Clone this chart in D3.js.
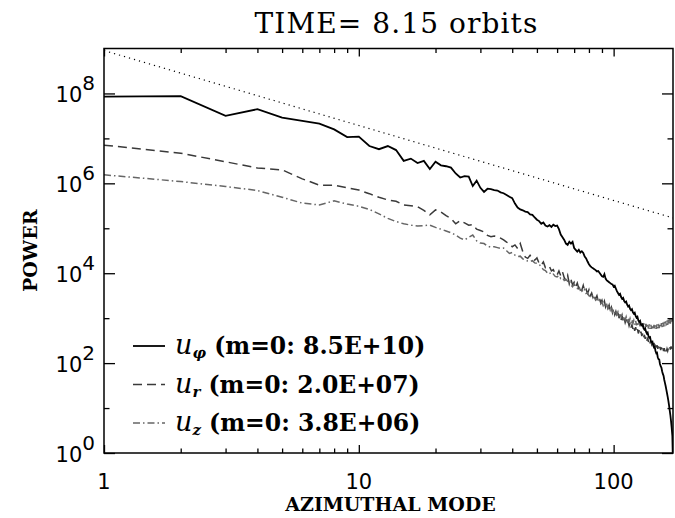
<!DOCTYPE html>
<html>
<head>
<meta charset="utf-8">
<script src="https://cdn.jsdelivr.net/npm/d3@7"></script>
<style>
  body { margin: 0; background: #fff; }
  svg { display: block; }
  .serif { font-family: "DejaVu Serif", "Liberation Serif", serif; }
  .sans { font-family: "DejaVu Sans", "Liberation Sans", sans-serif; }
</style>
</head>
<body>
<div id="chart"></div>
<script>
// log10(power) per azimuthal mode, m = 1 .. 171
const uPhiLog = [
  7.93, 7.94, 7.50, 7.65, 7.46, 7.39, 7.33, 7.20, 7.03, 7.04,
  6.83, 6.76, 6.83, 6.74, 6.50, 6.55, 6.45, 6.50, 6.32, 6.48,
  6.40, 6.38, 6.35, 6.22, 6.13, 6.16, 6.15, 5.94, 6.06, 5.90,
  5.81, 5.88, 5.87, 5.85, 5.84, 5.80, 5.78, 5.74, 5.70, 5.67,
  5.55, 5.46, 5.42, 5.40, 5.37, 5.36, 5.31, 5.30, 5.24, 5.19,
  5.16, 5.10, 5.13, 5.06, 5.04, 5.07, 5.03, 5.08, 5.05, 5.06,
  4.98, 4.86, 4.80, 4.74, 4.66, 4.63, 4.70, 4.66, 4.70, 4.56,
  4.52, 4.48, 4.52, 4.46, 4.49, 4.45, 4.37, 4.33, 4.26, 4.20,
  4.16, 4.13, 4.11, 4.09, 4.07, 4.04, 4.05, 4.01, 3.97, 3.93,
  3.92, 3.98, 3.88, 3.84, 3.82, 3.80, 3.78, 3.76, 3.75, 3.70,
  3.72, 3.66, 3.60, 3.56, 3.52, 3.54, 3.47, 3.43, 3.45, 3.38,
  3.35, 3.37, 3.30, 3.26, 3.28, 3.21, 3.18, 3.20, 3.13, 3.10,
  3.12, 3.05, 3.01, 3.03, 2.95, 2.92, 2.94, 2.86, 2.84, 2.86,
  2.78, 2.75, 2.77, 2.70, 2.66, 2.68, 2.60, 2.57, 2.58, 2.49,
  2.47, 2.48, 2.39, 2.35, 2.36, 2.27, 2.22, 2.23, 2.13, 2.09,
  2.08, 1.98, 1.93, 1.90, 1.82, 1.76, 1.72, 1.63, 1.56, 1.49,
  1.41, 1.33, 1.25, 1.16, 1.06, 0.95, 0.84, 0.71, 0.56, 0.38,
  -0.30
];
const uRLog = [
  6.85, 6.67, 6.48, 6.34, 6.30, 6.10, 5.96, 5.96, 5.90, 5.85,
  5.77, 5.69, 5.63, 5.60, 5.52, 5.50, 5.48, 5.40, 5.30, 5.41,
  5.36, 5.28, 5.22, 5.10, 5.17, 5.12, 5.07, 5.08, 4.98, 4.95,
  4.92, 4.84, 4.81, 4.83, 4.81, 4.78, 4.74, 4.69, 4.66, 4.59,
  4.63, 4.55, 4.66, 4.48, 4.36, 4.33, 4.40, 4.31, 4.29, 4.34,
  4.22, 4.18, 4.25, 4.12, 4.11, 4.15, 4.05, 4.08, 3.98, 3.96,
  4.05, 3.94, 4.03, 3.90, 3.84, 3.95, 3.76, 3.86, 3.74, 3.80,
  3.70, 3.78, 3.66, 3.70, 3.62, 3.73, 3.60, 3.64, 3.55, 3.63,
  3.50, 3.56, 3.46, 3.52, 3.44, 3.50, 3.38, 3.45, 3.34, 3.40,
  3.30, 3.38, 3.25, 3.32, 3.22, 3.29, 3.16, 3.24, 3.12, 3.20,
  3.08, 3.15, 3.04, 3.12, 3.00, 3.08, 2.96, 3.05, 2.93, 3.00,
  2.90, 2.97, 2.86, 2.93, 2.83, 2.90, 2.79, 2.86, 2.76, 2.83,
  2.72, 2.80, 2.70, 2.76, 2.66, 2.73, 2.63, 2.70, 2.60, 2.66,
  2.56, 2.63, 2.54, 2.60, 2.50, 2.57, 2.47, 2.53, 2.44, 2.50,
  2.42, 2.47, 2.39, 2.45, 2.36, 2.43, 2.34, 2.40, 2.32, 2.38,
  2.30, 2.36, 2.29, 2.35, 2.28, 2.34, 2.27, 2.33, 2.26, 2.33,
  2.26, 2.32, 2.27, 2.33, 2.28, 2.35, 2.30, 2.37, 2.32, 2.40,
  2.36
];
const uZLog = [
  6.19, 6.04, 5.93, 5.84, 5.69, 5.56, 5.52, 5.61, 5.54, 5.49,
  5.42, 5.32, 5.22, 5.15, 5.10, 5.07, 5.05, 5.06, 5.07, 5.02,
  4.98, 4.94, 4.90, 4.85, 4.78, 4.74, 4.80, 4.85, 4.72, 4.67,
  4.66, 4.60, 4.58, 4.59, 4.57, 4.55, 4.56, 4.50, 4.44, 4.46,
  4.40, 4.37, 4.38, 4.32, 4.30, 4.27, 4.26, 4.28, 4.23, 4.22,
  4.20, 4.14, 4.08, 4.06, 4.00, 4.02, 3.96, 3.98, 3.93, 3.92,
  3.95, 3.88, 3.90, 3.84, 3.86, 3.82, 3.85, 3.74, 3.70, 3.76,
  3.70, 3.66, 3.72, 3.62, 3.63, 3.58, 3.64, 3.55, 3.57, 3.50,
  3.48, 3.52, 3.44, 3.46, 3.40, 3.43, 3.36, 3.40, 3.32, 3.36,
  3.28, 3.33, 3.25, 3.30, 3.22, 3.27, 3.18, 3.24, 3.14, 3.20,
  3.12, 3.17, 3.08, 3.14, 3.05, 3.11, 3.02, 3.08, 2.99, 3.05,
  2.96, 3.03, 2.94, 3.01, 2.92, 2.99, 2.90, 2.97, 2.88, 2.95,
  2.86, 2.94, 2.84, 2.92, 2.83, 2.91, 2.82, 2.90, 2.81, 2.89,
  2.80, 2.88, 2.79, 2.87, 2.78, 2.87, 2.77, 2.86, 2.76, 2.85,
  2.76, 2.85, 2.75, 2.85, 2.76, 2.85, 2.76, 2.86, 2.77, 2.87,
  2.78, 2.88, 2.79, 2.89, 2.80, 2.90, 2.81, 2.92, 2.82, 2.93,
  2.84, 2.95, 2.85, 2.96, 2.87, 2.98, 2.88, 2.99, 2.90, 3.00,
  2.94
];
// dotted reference power law: end points (m, power)
const refLine = [[1, 9.0e8], [171, 1.7e5]];

const legendSub = ['φ', 'r', 'z'];
const legendM0 = ['8.5E+10', '2.0E+07', '3.8E+06'];
const xMajor = [1, 10, 100];
const xMinor = [2, 3, 4, 5, 6, 7, 8, 9, 20, 30, 40, 50, 60, 70, 80, 90];
const yMajorExp = [0, 2, 4, 6, 8];
const yMinorExp = [1, 3, 5, 7];

const width = 675, height = 518;
const margin = {top: 48.5, right: 2, bottom: 65, left: 104};

const svg = d3.select('#chart').append('svg')
  .attr('width', width)
  .attr('height', height);

const x = d3.scaleLog().domain([1, 171]).range([margin.left, width - margin.right]);
const y = d3.scaleLog().domain([1, 1e9]).range([height - margin.bottom, margin.top]);

svg.append('clipPath').attr('id', 'plotclip')
  .append('rect')
  .attr('x', x.range()[0]).attr('y', y.range()[1])
  .attr('width', x.range()[1] - x.range()[0])
  .attr('height', y.range()[0] - y.range()[1]);

const series = [
  {vals: uRLog, color: '#3a3a3a', dash: '9,5', width: 1.5},
  {vals: uZLog, color: '#666', dash: '7,3,1.5,3', width: 1.5},
  {vals: uPhiLog, color: '#000', dash: null, width: 1.8}
];

const line = d3.line()
  .x(d => x(d[0]))
  .y(d => y(d[1]));

const plot = svg.append('g').attr('clip-path', 'url(#plotclip)');

plot.append('path')
  .datum(refLine)
  .attr('fill', 'none')
  .attr('stroke', '#000')
  .attr('stroke-width', 1.2)
  .attr('stroke-dasharray', '1.2,4')
  .attr('d', line);

series.forEach(s => {
  const pts = s.vals.map((v, i) => [i + 1, Math.pow(10, v)]);
  plot.append('path')
    .datum(pts)
    .attr('fill', 'none')
    .attr('stroke', s.color)
    .attr('stroke-width', s.width)
    .attr('stroke-dasharray', s.dash)
    .attr('d', line);
});

// axes: box with inward ticks on all four sides
const axisStyle = g => {
  g.select('.domain').remove();
  g.selectAll('.tick line').attr('stroke', '#000').attr('stroke-width', 1.3);
};
const yb = y.range()[0], yt = y.range()[1];
const xl = x.range()[0], xr = x.range()[1];

svg.append('g').attr('transform', `translate(0,${yb})`)
  .call(d3.axisBottom(x).tickValues(xMajor).tickSize(-8).tickFormat(''))
  .call(axisStyle);
svg.append('g').attr('transform', `translate(0,${yb})`)
  .call(d3.axisBottom(x).tickValues(xMinor).tickSize(-4.5).tickFormat(''))
  .call(axisStyle);
svg.append('g').attr('transform', `translate(0,${yt})`)
  .call(d3.axisTop(x).tickValues(xMajor).tickSize(-8).tickFormat(''))
  .call(axisStyle);
svg.append('g').attr('transform', `translate(0,${yt})`)
  .call(d3.axisTop(x).tickValues(xMinor).tickSize(-4.5).tickFormat(''))
  .call(axisStyle);

const yMajor = yMajorExp.map(e => Math.pow(10, e));
const yMinor = yMinorExp.map(e => Math.pow(10, e));
svg.append('g').attr('transform', `translate(${xl},0)`)
  .call(d3.axisLeft(y).tickValues(yMajor).tickSize(-11).tickFormat(''))
  .call(axisStyle);
svg.append('g').attr('transform', `translate(${xl},0)`)
  .call(d3.axisLeft(y).tickValues(yMinor).tickSize(-5.5).tickFormat(''))
  .call(axisStyle);
svg.append('g').attr('transform', `translate(${xr},0)`)
  .call(d3.axisRight(y).tickValues(yMajor).tickSize(-11).tickFormat(''))
  .call(axisStyle);
svg.append('g').attr('transform', `translate(${xr},0)`)
  .call(d3.axisRight(y).tickValues(yMinor).tickSize(-5.5).tickFormat(''))
  .call(axisStyle);

svg.append('rect')
  .attr('x', xl).attr('y', yt)
  .attr('width', xr - xl).attr('height', yb - yt)
  .attr('fill', 'none')
  .attr('stroke', '#000')
  .attr('stroke-width', 1.5);

// tick labels
svg.append('g').selectAll('text')
  .data(xMajor)
  .join('text')
  .attr('class', 'sans')
  .attr('x', d => x(d))
  .attr('y', yb + 36)
  .attr('text-anchor', 'middle')
  .attr('font-size', 21)
  .text(d => d);

const yLab = svg.append('g').selectAll('text')
  .data(yMajorExp)
  .join('text')
  .attr('class', 'sans')
  .attr('x', xl - 9)
  .attr('y', d => y(Math.pow(10, d)) + 9)
  .attr('text-anchor', 'end')
  .attr('font-size', 21);
yLab.append('tspan').text('10');
yLab.append('tspan').attr('dy', -12).attr('font-size', 20).text(d => d);

// titles
svg.append('text')
  .attr('class', 'serif')
  .attr('x', (xl + xr) / 2 + 8)
  .attr('y', 33)
  .attr('text-anchor', 'middle')
  .attr('font-size', 28)
  .attr('letter-spacing', 1.1)
  .text('TIME= 8.15 orbits');

svg.append('text')
  .attr('class', 'serif')
  .attr('x', (xl + xr) / 2 + 2)
  .attr('y', 511)
  .attr('text-anchor', 'middle')
  .attr('font-size', 19)
  .attr('font-weight', 'bold')
  .text('AZIMUTHAL MODE');

svg.append('text')
  .attr('class', 'serif')
  .attr('transform', `translate(37,${(yt + yb) / 2}) rotate(-90)`)
  .attr('text-anchor', 'middle')
  .attr('font-size', 19)
  .attr('font-weight', 'bold')
  .text('POWER');

// legend
const legendRows = [
  {sub: legendSub[0], m0: legendM0[0], s: series[2]},
  {sub: legendSub[1], m0: legendM0[1], s: series[0]},
  {sub: legendSub[2], m0: legendM0[2], s: series[1]}
];
const legend = svg.append('g');
legendRows.forEach((r, i) => {
  const ly = 346 + i * 38.5;
  legend.append('line')
    .attr('x1', 133).attr('x2', 165)
    .attr('y1', ly).attr('y2', ly)
    .attr('stroke', r.s.color)
    .attr('stroke-width', r.s.width)
    .attr('stroke-dasharray', r.s.dash);
  const t = legend.append('text')
    .attr('class', 'serif')
    .attr('x', 175)
    .attr('y', ly + 8)
    .attr('font-size', 23.5)
    .attr('font-weight', 'bold');
  t.append('tspan').attr('font-style', 'italic').attr('font-weight', 'normal')
    .attr('font-size', 27).text('u');
  t.append('tspan').attr('font-style', 'italic')
    .attr('font-size', 15).attr('dy', 4).text(r.sub);
  t.append('tspan').attr('dy', -4).text(` (m=0: ${r.m0})`);
});
</script>
</body>
</html>
